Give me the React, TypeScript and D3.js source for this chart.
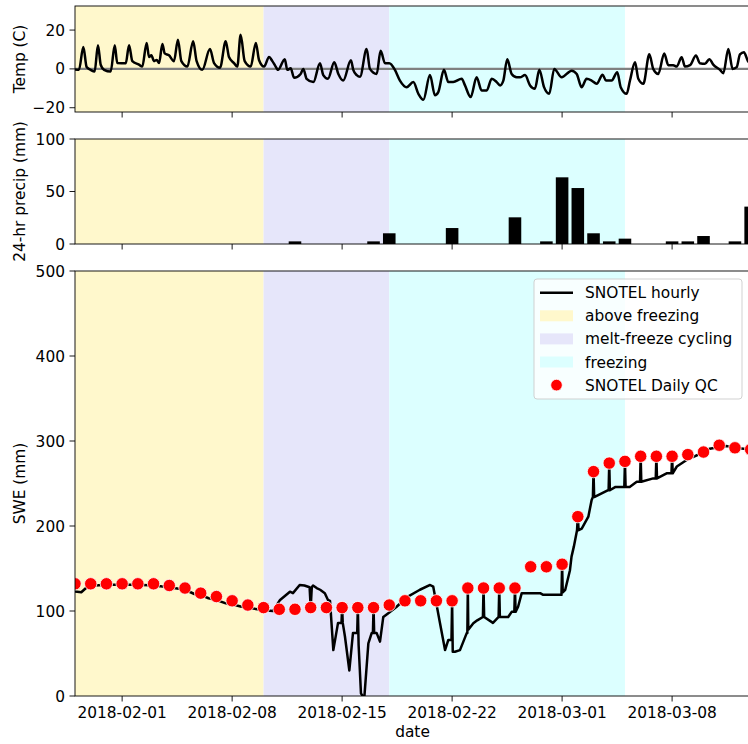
import React from 'react';
import * as d3 from 'd3';

// day offsets are counted from 2018-01-29 00:00
const DAY0 = Date.UTC(2018, 0, 29);
const toDate = (d: number) => new Date(DAY0 + d * 864e5);

const periods = [
  { name: 'above freezing', start: -1, end: 12, color: '#fff8cc' },
  { name: 'melt-freeze cycling', start: 12, end: 20, color: '#e6e6fa' },
  { name: 'freezing', start: 20, end: 35, color: '#dcffff' },
];

const tickDates = ['2018-02-01', '2018-02-08', '2018-02-15', '2018-02-22', '2018-03-01', '2018-03-08'];

// hourly temperature, key points [day, degC]
const tempHourly: [number, number][] = [
  [0, -0.3], [0.25, -0.5], [0.53, 11.3], [0.74, 1], [1.0, -0.5], [1.25, -1.4], [1.46, 12.2], [1.64, 2],
  [1.85, -0.5], [2.27, -1.4], [2.53, 12.2], [2.69, 3], [3.23, 2.9], [3.44, 12.2], [3.65, 4], [4.07, 2.2],
  [4.28, 1.2], [4.56, 13.4], [4.71, 6.1], [4.86, 7], [5.03, 4], [5.2, 4.6], [5.35, 3], [5.56, 12.8],
  [5.71, 8], [5.98, 7], [6.3, 4], [6.55, 15], [6.77, 4], [7.15, 1.2], [7.52, 14.2], [7.74, 4],
  [8.1, -0.5], [8.59, 10.2], [8.85, 3], [9.23, 0.6], [9.59, 14.2], [9.8, 6.1], [10.12, 3], [10.33, 1.2],
  [10.54, 17.6], [10.8, 4], [11.18, 1.2], [11.51, 13.4], [11.71, 4.6], [12.03, 1.2], [12.35, 6.1], [12.56, 4],
  [12.77, 1.2], [12.92, -0.5], [13.35, 5], [13.51, -0.5], [13.73, 0.3], [13.94, -4.6], [14.36, -2.6], [14.53, 0],
  [14.74, -5.1], [15.17, -6.8], [15.59, 2.9], [15.8, -3.2], [16.1, -5.1], [16.5, 3.4], [16.76, -2.6], [17.07, -6],
  [17.56, 4.4], [17.71, -0.5], [17.93, -3.2], [18.14, -4], [18.56, 10.2], [18.77, 0], [19.2, -2.6], [19.45, 9.3],
  [19.73, 2.9], [20.0, 2.9], [20.36, -0.5], [20.68, -6], [21.11, -9.4], [21.53, -6.8], [21.85, -12.8], [22.17, -15.9],
  [22.59, -3.2], [22.91, -13.6], [23.12, -12], [23.48, -0.5], [23.76, -6.8], [24.07, -6.8], [24.61, -5.1], [24.82, -8.5],
  [25.18, -14.5], [25.56, -4.3], [25.88, -11.1], [26.2, -11.1], [26.52, -5.1], [26.84, -6.8], [27.05, -8.5], [27.26, -6],
  [27.51, 5], [27.79, -2.6], [28.11, -4.3], [28.32, -4.3], [28.64, -3.2], [28.96, -8.5], [29.27, -10.2], [29.55, -0.5],
  [29.85, -9.4], [30.18, -12.8], [30.5, 0], [30.97, -4.3], [31.61, -0.9], [31.93, -2.6], [32.24, -9.4], [32.56, -5.1],
  [32.88, -6], [33.2, -7.7], [33.58, -3], [33.79, -6], [34.15, -6], [34.51, -1.7], [34.73, -9.4], [35.11, -12.8],
  [35.32, -6], [35.64, 3.4], [35.85, -5.1], [36.17, -7.7], [36.55, 7.5], [36.8, 0], [37.12, -2.6], [37.5, 7.9],
  [37.76, 1.9], [38.07, 1.9], [38.29, 1.2], [38.61, 6], [38.82, 1.2], [39.14, 1.9], [39.52, 6.9], [39.77, 2.9],
  [40.09, 2.6], [40.37, 5], [40.62, 2.2], [41.05, -0.5], [41.26, -2.2], [41.58, 10.2], [41.85, 0], [42.11, 0.9],
  [42.32, 7.5], [42.57, 8.6], [42.83, 4], [42.96, 3],
];

// 24-hr precip (mm), one per day starting at day 0
const precipDaily = [
  0, 0, 0, 0, 0, 0, 0, 0, 0, 0, 0, 0, 0, 0, 2.5, 0, 0, 0, 0, 2.5, 10.2, 0, 0, 0, 15.2, 0, 0, 0,
  25.4, 0, 2.5, 63.5, 53.3, 10.2, 2.5, 5.1, 0, 0, 2.5, 2.5, 7.6, 0, 2.5, 35.6,
];

// SNOTEL daily QC SWE (mm), one per day starting at day 0
const sweDaily = [
  132, 132, 132, 132, 132, 132, 130, 127, 121, 117, 112, 107, 104, 102, 102, 104, 104, 104, 104, 104,
  107, 112, 112, 112, 112, 127, 127, 127, 127, 152, 152, 155, 211, 264, 274, 276, 282, 282, 282, 284,
  287, 295, 292, 290,
];

// SNOTEL hourly SWE, key points [day, mm]
const sweHourly: [number, number][] = [
  [0, 123], [0.4, 122], [0.7, 127], [1.3, 130], [2, 131], [3, 131], [4, 131], [5, 130], [6, 128], [7, 125],
  [7.6, 120], [8, 119], [8.5, 115], [9, 113], [9.6, 109], [10, 108], [10.6, 105], [11, 104], [11.6, 102], [12, 101],
  [12.6, 100], [13.05, 113], [13.68, 122.7], [13.87, 121], [14.3, 130.6], [14.6, 130], [14.93, 128], [15, 104], [15.07, 128],
  [15.15, 130], [15.38, 127], [15.6, 125], [15.9, 121], [16.1, 113], [16.23, 112], [16.44, 54], [16.74, 86], [16.96, 86],
  [17, 104], [17.04, 86], [17.18, 70], [17.46, 30], [17.69, 74], [17.96, 74], [18, 104], [18.05, 60], [18.2, 3],
  [18.3, 0], [18.42, 0], [18.67, 62], [18.88, 74], [18.96, 74], [19, 104], [19.04, 74], [19.2, 74], [19.41, 64],
  [19.62, 93], [19.98, 98], [20.47, 105], [21.1, 116], [21.95, 125], [22.6, 130.6], [22.8, 128.6], [23.23, 85.5],
  [23.55, 54], [23.76, 66], [23.96, 66], [24, 112], [24.04, 52], [24.18, 52], [24.5, 54], [24.93, 74], [24.97, 74],
  [25, 127], [25.03, 78], [25.35, 85.5], [25.6, 89], [25.96, 93], [26, 127], [26.04, 93], [26.6, 86], [26.96, 93],
  [27, 127], [27.04, 93], [27.57, 93], [27.79, 99], [27.96, 99], [28, 127], [28.04, 99], [28.2, 105], [28.43, 121],
  [29.6, 121], [29.8, 119], [30.5, 119], [30.96, 119], [31, 155], [31.04, 122], [31.2, 125], [31.5, 148], [31.6, 164],
  [31.75, 176], [31.95, 195], [32, 211], [32.05, 195], [32.25, 197], [32.67, 211], [32.88, 230.6], [32.96, 234],
  [33, 264], [33.04, 234], [33.9, 242], [33.96, 242], [34, 274], [34.04, 242], [34.4, 246], [34.96, 246], [35, 276.5],
  [35.04, 246], [35.3, 246], [35.75, 252], [35.96, 252], [36, 282], [36.04, 252], [36.8, 256], [36.96, 256],
  [37, 282], [37.04, 256], [37.65, 262], [37.96, 262], [38, 282], [38.04, 262], [38.3, 270], [38.95, 278],
  [39.8, 285], [40.4, 291], [41, 293], [41.5, 294], [42, 292], [42.96, 290],
];

const W = 748;
const H = 744;
const left = 75;
const right = 750;
const font = 'DejaVu Sans, sans-serif';
const fs = 15.4;
const tickLen = 5.5;

const x = d3.scaleUtc().domain([toDate(0), toDate(42.958)]).range([left, right]);

const panels = {
  temp: { top: 6, bottom: 112 },
  precip: { top: 139, bottom: 244 },
  swe: { top: 271, bottom: 696 },
};

const yTemp = d3.scaleLinear().domain([-22.2, 32.4]).range([panels.temp.bottom, panels.temp.top]);
const yPrecip = d3.scaleLinear().domain([0, 100]).range([panels.precip.bottom, panels.precip.top]);
const ySwe = d3.scaleLinear().domain([0, 500]).range([panels.swe.bottom, panels.swe.top]);

const fmtNum = (v: number) => (v < 0 ? '\u2212' + Math.abs(v) : String(v));

function Panel({ id, top, bottom, y, yTicks, label, showDates, children }: any) {
  const parse = d3.utcParse('%Y-%m-%d');
  return (
    <g>
      <defs>
        <clipPath id={id}>
          <rect x={left} y={top} width={right - left} height={bottom - top} />
        </clipPath>
      </defs>
      <g clipPath={`url(#${id})`}>
        {periods.map((p) => (
          <rect key={p.name} x={x(toDate(p.start))} y={top} width={x(toDate(p.end)) - x(toDate(p.start))}
            height={bottom - top} fill={p.color} />
        ))}
        {children}
      </g>
      <rect x={left} y={top} width={right - left} height={bottom - top} fill="none" stroke="#000" strokeWidth={0.9} />
      {yTicks.map((t: number) => (
        <g key={t} transform={`translate(${left},${y(t)})`}>
          <line x1={0} x2={-tickLen} stroke="#000" strokeWidth={0.9} />
          <text x={-10} dy="0.36em" textAnchor="end" fontSize={fs} fontFamily={font}>{fmtNum(t)}</text>
        </g>
      ))}
      {tickDates.map((t) => {
        const px = x(parse(t) as Date);
        return (
          <g key={t} transform={`translate(${px},${bottom})`}>
            <line y1={0} y2={tickLen} stroke="#000" strokeWidth={0.9} />
            {showDates && (
              <text y={22} textAnchor="middle" fontSize={fs} fontFamily={font}>{t}</text>
            )}
          </g>
        );
      })}
      <text transform={`translate(25,${(top + bottom) / 2}) rotate(-90)`} textAnchor="middle" fontSize={fs}
        fontFamily={font}>{label}</text>
    </g>
  );
}

export default function App() {
  const tempLine = d3.line<[number, number]>().x((d) => x(toDate(d[0]))).y((d) => yTemp(d[1]))
    .curve(d3.curveMonotoneX);
  const sweLine = d3.line<[number, number]>().x((d) => x(toDate(d[0]))).y((d) => ySwe(d[1]));
  const barW = x(toDate(0.8)) - x(toDate(0));

  const legendItems = [
    { kind: 'line', label: 'SNOTEL hourly' },
    ...periods.map((p) => ({ kind: 'patch', label: p.name, color: p.color })),
    { kind: 'dot', label: 'SNOTEL Daily QC' },
  ];

  return (
    <div style={{ position: 'absolute', left: 0, top: 0 }}>
      <svg width={W} height={H} style={{ display: 'block', background: '#fff' }}>
        <Panel id="clip-temp" {...panels.temp} y={yTemp} yTicks={[-20, 0, 20]} label="Temp (C)">
          <line x1={left} x2={right} y1={yTemp(0)} y2={yTemp(0)} stroke="#808080" strokeWidth={2.4} />
          <path d={tempLine(tempHourly) || ''} fill="none" stroke="#000" strokeWidth={2.5} strokeLinejoin="round" />
        </Panel>

        <Panel id="clip-precip" {...panels.precip} y={yPrecip} yTicks={[0, 50, 100]} label="24-hr precip (mm)">
          {precipDaily.map((v, i) => (
            <rect key={i} x={x(toDate(i)) - barW / 2} y={yPrecip(v)} width={barW}
              height={yPrecip(0) - yPrecip(v)} fill="#000" />
          ))}
        </Panel>

        <Panel id="clip-swe" {...panels.swe} y={ySwe} yTicks={[0, 100, 200, 300, 400, 500]} label="SWE (mm)" showDates>
          <path d={sweLine(sweHourly) || ''} fill="none" stroke="#000" strokeWidth={2.5} strokeLinejoin="round" />
          {sweDaily.map((v, i) => (
            <circle key={i} cx={x(toDate(i))} cy={ySwe(v)} r={6.2} fill="#ff0000" stroke="#fff" strokeWidth={0.8} />
          ))}
        </Panel>

        <text x={(left + right) / 2} y={737} textAnchor="middle" fontSize={fs} fontFamily={font}>date</text>

        <g transform="translate(534,279)">
          <rect width={208} height={120} rx={3} fill="#fff" fillOpacity={0.8} stroke="#cccccc" strokeWidth={0.9} />
          {legendItems.map((it: any, i) => {
            const cy = 13.7 + i * 23.1;
            return (
              <g key={it.label} transform={`translate(0,${cy})`}>
                {it.kind === 'line' && <line x1={6} x2={39} y1={0} y2={0} stroke="#000" strokeWidth={2.5} />}
                {it.kind === 'patch' && <rect x={6} y={-5.5} width={33} height={11} fill={it.color} />}
                {it.kind === 'dot' && <circle cx={22.5} cy={0} r={5.8} fill="#ff0000" stroke="#fff" strokeWidth={0.8} />}
                <text x={51} dy="0.36em" fontSize={fs} fontFamily={font}>{it.label}</text>
              </g>
            );
          })}
        </g>
      </svg>
    </div>
  );
}
